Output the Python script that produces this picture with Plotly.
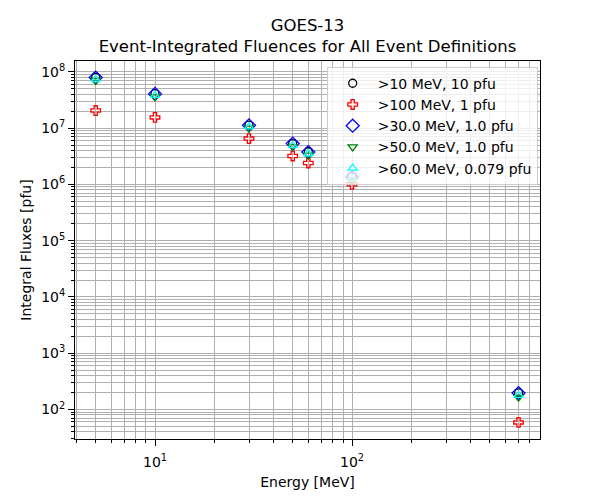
import plotly.graph_objects as go

energies = [5, 10, 30, 50, 60, 100, 700]
fl_10 = [8.0e7, 4.1e7, 1.13e7, 5.3e6, 3.8e6, 1.37e6, 197]
fl_100 = [2.05e7, 1.55e7, 6.5e6, 3.2e6, 2.4e6, 1.0e6, 59]
fl_30 = [7.9e7, 4.05e7, 1.12e7, 5.3e6, 3.75e6, 1.35e6, 196]
fl_50 = [7.0e7, 3.6e7, 1.0e7, 4.7e6, 3.3e6, 1.2e6, 165]
fl_60 = [7.3e7, 3.8e7, 1.05e7, 4.9e6, 3.5e6, 1.25e6, 178]

series = [
    (">10 MeV, 10 pfu", fl_10, "circle-open", "black", 8),
    (">100 MeV, 1 pfu", fl_100, "cross-open", "red", 8),
    (">30.0 MeV, 1.0 pfu", fl_30, "diamond-open", "blue", 10),
    (">50.0 MeV, 1.0 pfu", fl_50, "triangle-down-open", "green", 8),
    (">60.0 MeV, 0.079 pfu", fl_60, "triangle-up-open", "cyan", 8),
]

fig = go.Figure()
for name, vals, sym, col, sz in series:
    fig.add_trace(go.Scatter(
        x=energies, y=vals, mode="markers", name=name,
        marker=dict(symbol=sym, size=sz, color=col, line=dict(color=col, width=1.3)),
    ))

font = "DejaVu Sans"
fig.update_layout(
    width=600, height=500,
    margin=dict(l=75, r=60, t=61, b=55),
    paper_bgcolor="white", plot_bgcolor="white",
    font=dict(family=font, size=14, color="black"),
    title=dict(text="GOES-13<br>Event-Integrated Fluences for All Event Definitions",
               xref="paper", x=0.5, xanchor="center", y=1 - 31 / 500, yanchor="middle",
               font=dict(family=font, size=16.5)),
    legend=dict(x=0.995, y=0.985, xanchor="right", yanchor="top",
                bgcolor="rgba(255,255,255,0.8)", bordercolor="#cccccc", borderwidth=1,
                font=dict(family=font, size=14), itemwidth=40, tracegroupgap=4),
    showlegend=True,
)
fig.update_xaxes(
    type="log", range=[0.594, 2.954],
    tickvals=[10, 100], ticktext=["10<sup>1</sup>", "10<sup>2</sup>"],
    tickfont=dict(family=font, size=14), ticklabelstandoff=4,
    ticks="outside", ticklen=6, tickcolor="black",
    showline=True, linecolor="black", linewidth=1, mirror=True,
    showgrid=True, gridcolor="#b0b0b0", gridwidth=1,
    minor=dict(dtick="D1", ticks="outside", ticklen=3, tickcolor="black",
               showgrid=True, gridcolor="#b0b0b0", gridwidth=1),
    title=dict(text="Energy [MeV]", font=dict(family=font, size=14), standoff=8),
    zeroline=False,
)
fig.update_yaxes(
    type="log", range=[1.476, 8.192],
    tickvals=[1e2, 1e3, 1e4, 1e5, 1e6, 1e7, 1e8],
    ticktext=["10<sup>%d</sup>" % k for k in range(2, 9)],
    tickfont=dict(family=font, size=14),
    ticks="outside", ticklen=6, tickcolor="black",
    showline=True, linecolor="black", linewidth=1, mirror=True,
    showgrid=True, gridcolor="#b0b0b0", gridwidth=1,
    minor=dict(dtick="D1", ticks="outside", ticklen=3, tickcolor="black",
               showgrid=True, gridcolor="#b0b0b0", gridwidth=1),
    title=dict(text="Integral Fluxes [pfu]", font=dict(family=font, size=14), standoff=6),
    zeroline=False,
)

fig.write_html("out.html")
